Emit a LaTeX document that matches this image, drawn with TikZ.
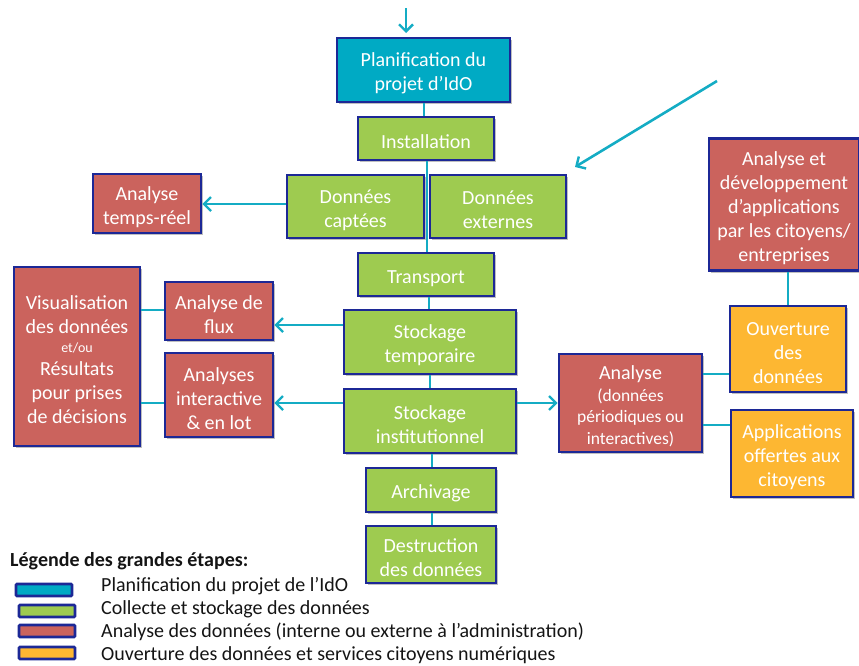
\documentclass[tikz,border=0pt]{standalone}
\usepackage{fontspec}
\setmainfont{Carlito}
\usetikzlibrary{arrows.meta,shadows}
\definecolor{cyanfill}{RGB}{0,170,196}
\definecolor{greenfill}{RGB}{158,203,80}
\definecolor{redfill}{RGB}{203,99,93}
\definecolor{orangefill}{RGB}{253,183,50}
\definecolor{borderblue}{RGB}{28,40,150}
\definecolor{linecyan}{RGB}{20,172,196}
\definecolor{legtext}{RGB}{20,20,20}
\newcommand{\tstrut}{\rule{0pt}{20.5pt}}
\tikzset{
  box/.style={draw=borderblue, line width=2.6pt, fill=#1, text=white,
    align=center, inner sep=0pt, font=\fontsize{20}{24}\selectfont,
    drop shadow={shadow xshift=2pt, shadow yshift=-2pt, opacity=0.25, fill=black}},
  conn/.style={draw=linecyan, line width=2.6pt},
  arr/.style={conn, -{Straight Barb[length=7pt,width=14pt,line width=2.4pt]}},
  swatch/.style={draw=borderblue, line width=2.6pt, fill=#1, rounded corners=1pt,
    minimum width=56pt, minimum height=12pt, inner sep=0pt},
  legitem/.style={anchor=west, text=legtext, inner sep=0pt, font=\fontsize{20}{23}\selectfont},
}
\begin{document}
\begin{tikzpicture}[x=1pt,y=-1pt]
\useasboundingbox (0,0) rectangle (859,665);
% main column
\node[box=cyanfill, minimum width=173pt, minimum height=64pt] (plan) at (423.5,70) {\tstrut Planification du\\projet d’IdO};
\node[box=greenfill, minimum width=136pt, minimum height=43pt] (inst) at (426,138.5) {\tstrut Installation};
\node[box=greenfill, minimum width=137pt, minimum height=63pt] (capt) at (355.5,206.5) {\tstrut Données\\captées};
\node[box=greenfill, minimum width=136pt, minimum height=63pt] (ext) at (498,206.5) {\tstrut Données\\externes};
\node[box=greenfill, minimum width=136pt, minimum height=43pt] (trans) at (426,274.5) {\tstrut Transport};
\node[box=greenfill, minimum width=172pt, minimum height=64pt] (stemp) at (430,342) {\tstrut Stockage\\temporaire};
\node[box=greenfill, minimum width=172pt, minimum height=64pt] (sinst) at (430,421) {\tstrut Stockage\\institutionnel};
\node[box=greenfill, minimum width=130pt, minimum height=44pt] (arch) at (431,490) {\tstrut Archivage};
\node[box=greenfill, minimum width=130pt, minimum height=57pt] (destr) at (431,554.5) {\tstrut Destruction\\des données};
% left side
\node[box=redfill, minimum width=108pt, minimum height=59pt] (atr) at (147,203.5) {\tstrut Analyse\\temps-réel};
\node[box=redfill, minimum width=126pt, minimum height=179pt] (visu) at (77,356.5)
  {\tstrut Visualisation\\des données\\[-5pt]{\fontsize{14}{15}\selectfont et/ou}\\[-1pt]Résultats\\pour prises\\de décisions};
\node[box=redfill, minimum width=108pt, minimum height=58pt] (flux) at (219,311) {\tstrut Analyse de\\flux};
\node[box=redfill, minimum width=108pt, minimum height=84pt] (inter) at (219,395) {\tstrut Analyses\\interactive\\\& en lot};
% right side
\node[box=redfill, minimum width=143pt, minimum height=98pt, font=\fontsize{17.5}{21.5}\selectfont] (ana) at (630.5,403)
  {\tstrut{\fontsize{20}{24}\selectfont Analyse}\\(données\\périodiques ou\\interactives)};
\node[box=redfill, minimum width=150pt, minimum height=132pt] (adev) at (784,204.5)
  {\tstrut Analyse et\\développement\\d’applications\\par les citoyens/\\entreprises};
\node[box=orangefill, minimum width=116pt, minimum height=86pt] (ouv) at (788,349) {\tstrut Ouverture\\des\\données};
\node[box=orangefill, minimum width=122pt, minimum height=87pt] (app) at (792,453.5) {\tstrut Applications\\offertes aux\\citoyens};
% free ends
\coordinate (topstart) at (406,8);
\coordinate (topend) at (406,33);
\coordinate (diagstart) at (717,81);
\coordinate (diagend) at (575,167);
% vertical flow
\draw[conn] ([xshift=-2pt]plan.south -| inst.north) -- ([xshift=-2pt]inst.north);
\draw[conn] ([xshift=1pt]inst.south) -- ([xshift=1pt]trans.north);
\draw[conn] (stemp.north -| 429,0) -- (trans.south -| 429,0);
\draw[conn] (sinst.north -| 430,0) -- (stemp.south -| 430,0);
\draw[conn] (arch.north -| 432,0) -- (sinst.south -| 432,0);
\draw[conn] (destr.north -| 432,0) -- (arch.south -| 432,0);
% arrows
\draw[arr] (topstart) -- (topend);
\draw[arr] (diagstart) -- (diagend);
\draw[arr] (capt.west |- 0,204) -- (atr.east |- 0,204);
\draw[arr] (stemp.west |- 0,325) -- (flux.east |- 0,325);
\draw[arr] (sinst.west |- 0,403) -- (inter.east |- 0,403);
\draw[arr] (sinst.east |- 0,403) -- (ana.west |- 0,403);
% plain links
\draw[conn] (visu.east |- 0,310) -- (flux.west |- 0,310);
\draw[conn] (visu.east |- 0,403) -- (inter.west |- 0,403);
\draw[conn] (ana.east |- 0,374) -- (ouv.west |- 0,374);
\draw[conn] (ana.east |- 0,425) -- (app.west |- 0,425);
\draw[conn] (adev.south -| ouv.north) -- (ouv.north);
% legend
\node[anchor=west, inner sep=0pt, text=legtext, font=\fontsize{20}{22}\selectfont\bfseries] (legtitle) at (10,561) {Légende des grandes étapes:};
\node[swatch=cyanfill] (s1) at (44,590) {};
\node[swatch=greenfill] (s2) at (47,611) {};
\node[swatch=redfill] (s3) at (47,631) {};
\node[swatch=orangefill] (s4) at (47,653) {};
\node[legitem] (l1) at (101,586) {Planification du projet de l’IdO};
\node[legitem] (l2) at (101,609) {Collecte et stockage des données};
\node[legitem] (l3) at (101,632) {Analyse des données (interne ou externe à l’administration)};
\node[legitem] (l4) at (101,655) {Ouverture des données et services citoyens numériques};
\end{tikzpicture}
\end{document}
